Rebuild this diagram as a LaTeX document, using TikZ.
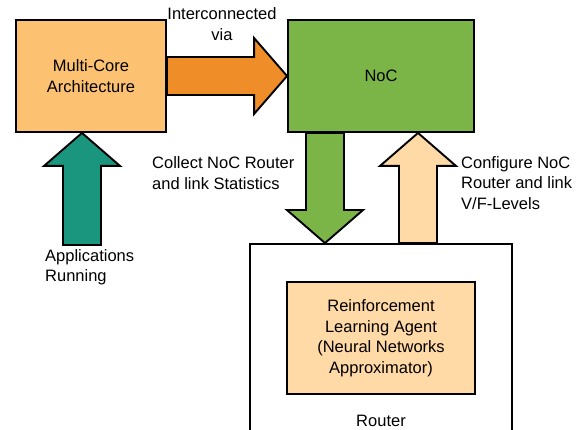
\documentclass[tikz,border=0pt]{standalone}
\usepackage{fontspec}
\setmainfont{Liberation Sans}
\usetikzlibrary{calc}
\definecolor{coreorange}{HTML}{FDC172}
\definecolor{linkorange}{HTML}{EF8D28}
\definecolor{nocgreen}{HTML}{7BB548}
\definecolor{appteal}{HTML}{1A967E}
\definecolor{peach}{HTML}{FFD9A6}
\newcommand\lblfont{\fontsize{16.5}{20.5}\selectfont}
\tikzset{
  box/.style={draw=black, line width=1.9pt, inner sep=0pt, align=center, font=\lblfont},
  lbl/.style={inner sep=0pt, font=\lblfont},
  % block arrow: shaft 38 wide, head 76 wide and 33 long
  fat/.style={draw=black, line width=1.9pt, line join=miter, to path={
    ($(\tikztostart)!19pt!90:(\tikztotarget)$)
    -- ($(\tikztotarget)!33pt!(\tikztostart)!19pt!-90:(\tikztostart)$)
    -- ($(\tikztotarget)!33pt!(\tikztostart)!38pt!-90:(\tikztostart)$)
    -- (\tikztotarget)
    -- ($(\tikztotarget)!33pt!(\tikztostart)!38pt!90:(\tikztostart)$)
    -- ($(\tikztotarget)!33pt!(\tikztostart)!19pt!90:(\tikztostart)$)
    -- ($(\tikztostart)!19pt!-90:(\tikztotarget)$)
    -- cycle}}
}
\begin{document}
\begin{tikzpicture}[x=1pt, y=-1pt]
\useasboundingbox (0,0) rectangle (583,430);
\clip (0,0) rectangle (583,430);

% boxes
\node[box, fill=coreorange, minimum width=150pt, minimum height=112pt] (mc) at (91,76) {Multi-Core\\Architecture};
\node[box, fill=nocgreen, minimum width=186pt, minimum height=112pt] (noc) at (381,76) {NoC};
\node[box, fill=white, minimum width=262pt, minimum height=200pt] (rt) at (381,344) {};
\node[box, fill=peach, minimum width=188pt, minimum height=112pt] (rl) at (381,338) {Reinforcement\\Learning Agent\\(Neural Networks\\Approximator)};
\node[lbl] (rtlabel) at (381,421) {Router};

% arrow end points
\coordinate (gtop) at ([xshift=-56pt]noc.south);
\coordinate (gbot) at ([xshift=-56pt]rt.north);
\coordinate (ptop) at ([xshift=37pt]noc.south);
\coordinate (pbot) at ([xshift=37pt]rt.north);
\coordinate (apptop) at ([xshift=-9pt]mc.south);
\coordinate (appbot) at (82,245);

% block arrows
\draw[fat, fill=linkorange] (mc.east) to (noc.west);
\draw[fat, fill=nocgreen] (gtop) to (gbot);
\draw[fat, fill=peach] (pbot) to (ptop);
\draw[fat, fill=appteal] (appbot) to (apptop);

% labels
\node[lbl, align=center] (ivia) at (222,24) {Interconnected\\via};
\node[lbl, align=left, anchor=west] (coll) at (152,173) {Collect NoC Router\\and link Statistics};
\node[lbl, align=left, anchor=west] (conf) at (461,183) {Configure NoC\\Router and link\\V/F-Levels};
\node[lbl, align=left, anchor=west] (apps) at (45,267) {Applications\\Running};
\end{tikzpicture}
\end{document}
